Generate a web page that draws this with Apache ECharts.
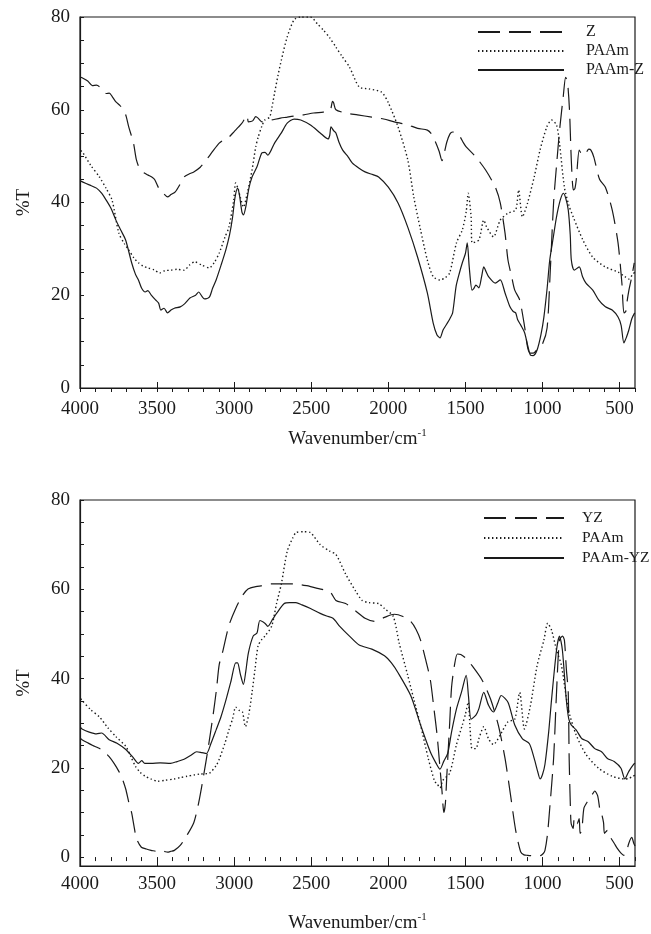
<!DOCTYPE html>
<html>
<head>
<meta charset="utf-8">
<script src="https://cdn.jsdelivr.net/npm/echarts@6/dist/echarts.min.js"></script>
<style>
html,body{margin:0;padding:0;background:#fff;}
#chart{width:651px;height:934px;}
</style>
</head>
<body>
<div id="chart"></div>
<script>
// ---------- Tick labels ----------
const xTickLabels = [500, 1000, 1500, 2000, 2500, 3000, 3500, 4000];
const yTickLabels = [0, 20, 40, 60, 80];

// ---------- Top chart: Z, PAAm, PAAm-Z ----------
const topZ_w = [3995,3981,3950,3920,3893,3860,3830,3810,3790,3767,3740,3716,3700,3684,3653,3634,3609,3580,3558,3530,3515,3483,3460,3432,3410,3382,3350,3325,3290,3262,3220,3180,3140,3097,3060,3034,3000,2971,2945,2927,2915,2908,2880,2860,2845,2820,2790,2757,2700,2656,2600,2549,2485,2422,2378,2362,2355,2340,2277,2200,2107,2030,1962,1880,1810,1747,1720,1696,1670,1652,1635,1621,1600,1583,1560,1539,1515,1495,1432,1369,1306,1274,1243,1224,1200,1180,1148,1116,1097,1080,1060,1030,1000,970,950,928,909,888,865,850,838,825,813,800,790,781,762,750,740,718,700,686,667,630,592,548,510,485,472,460,453,440,421,405];
const topZ_v = [67,66.8,66.2,65.2,65.3,64.6,63.5,63.6,62.8,61.7,60.9,60,58.5,56.3,52.8,49.2,47,46.3,45.9,45.4,44.9,42.7,42,41.2,41.7,42.3,44,45.5,46.2,46.6,47.6,49.2,51,52.8,53.7,54.1,55.3,56.3,57.3,58.4,58.8,57.4,57.6,58.5,58.2,57.4,57.6,57.8,58.2,58.4,58.7,58.9,59.3,59.5,59.8,61.8,61.5,60,59.3,58.9,58.4,58,57.4,56.8,56,55.6,54.8,53.2,51,49,51,53,54.8,55.2,55,54.4,53,52,49.8,47,43.3,39.9,33.4,27.6,24,21.1,19,13.2,8.8,7.5,7.5,8.5,9.5,13,25,40,48,56,63,67,66,60,49,42.7,43,44.9,51.3,50.6,50.2,50.7,51.5,51.3,49.8,45,43.3,38.4,31.3,22.6,16.2,16.5,18.3,21,24,27];

const topPAAm_w = [3995,3981,3930,3874,3830,3792,3748,3710,3684,3650,3621,3590,3558,3520,3483,3450,3413,3370,3325,3290,3255,3210,3161,3130,3097,3060,3034,3003,2990,2975,2959,2940,2915,2884,2860,2845,2820,2801,2770,2755,2738,2715,2694,2656,2611,2570,2505,2460,2422,2380,2340,2300,2252,2189,2126,2044,2000,1937,1874,1835,1791,1747,1709,1665,1630,1602,1558,1520,1495,1482,1463,1457,1413,1381,1362,1318,1274,1224,1174,1155,1130,1097,1054,1016,972,941,909,890,858,830,801,738,674,592,510,465,440,415,400];
const topPAAm_v = [51.2,50.7,48,45.5,43,40.5,33.4,31,29.8,28,27,26.3,25.9,25.5,24.8,25.3,25.4,25.6,25.4,26.5,27.2,26.5,25.9,27,29.1,32.5,34.7,40.5,44.2,43,41,39,42,47,52,54,56.5,57.8,58.4,60.5,63.6,67.5,70.7,75.7,79.4,80,80,78.5,77.2,75.5,73.5,71.5,69.2,64.9,64.5,63.8,61.5,56.3,49.2,41.2,34.1,27.6,24,23.3,23.8,24.8,31.3,34.1,38,42,36.9,31.3,31.9,36.2,34.7,32.6,36.2,37.7,38.4,42.7,36.9,39.9,45.5,51.3,56.3,57.8,56.7,52.8,43.3,39.5,36.9,31.9,28.2,26.1,25,24,23.5,24.5,25];

const topPAAmZ_w = [3995,3981,3940,3893,3860,3830,3800,3767,3735,3704,3665,3640,3621,3600,3577,3560,3539,3510,3490,3476,3455,3432,3410,3388,3350,3320,3287,3250,3230,3210,3192,3161,3140,3117,3085,3054,3030,3010,2995,2978,2965,2950,2940,2925,2905,2884,2852,2820,2800,2782,2760,2738,2694,2656,2611,2568,2505,2442,2391,2380,2372,2355,2340,2320,2296,2260,2233,2190,2151,2100,2063,2000,1937,1874,1810,1747,1709,1685,1665,1645,1621,1600,1583,1560,1539,1520,1500,1488,1475,1457,1445,1432,1413,1395,1381,1365,1350,1306,1274,1243,1211,1190,1174,1161,1140,1116,1095,1078,1060,1035,1010,991,970,953,930,909,885,865,850,833,820,813,794,762,740,718,674,636,592,548,510,490,472,455,440,420,402];
const topPAAmZ_v = [44.6,44.4,43.8,43.1,42,40.5,38.8,36.2,34,31.9,27,24.5,23.3,21.5,20.7,21,20.1,19,18.3,16.8,17.2,16.2,16.8,17.2,17.5,18.2,19.4,20,20.7,19.8,19.2,19.6,21.5,23.3,26.5,29.8,33,36.9,41,43.1,41.5,38,37.3,39,43,45.5,47.7,50.7,50.8,50.2,51.3,52.8,55,57.1,58,57.8,56.7,55,53.7,54.5,56.3,55.5,55,53,51.3,49.8,48.5,47.4,46.6,46,45.5,43.3,39.9,34.7,28.2,20.5,14,11.5,10.8,12.5,13.8,15,16.2,22,24.8,27,29,31.3,26,21.1,21.5,22.2,21.6,24,26.1,25,24,22.6,23.3,20.5,17.5,16.5,16.2,14.7,13.5,11.9,9,7.1,7,8.2,11.5,15.3,21.5,27.6,32.5,36.9,40.5,42,41,38.4,33,27.6,25.4,26.1,24,22.6,21.1,19,17.5,16.8,15.3,13.5,9.7,11,12.5,15,16.2];

// ---------- Bottom chart: YZ, PAAm, PAAm-YZ ----------
const botYZ_w = [3995,3987,3950,3917,3890,3861,3840,3811,3779,3748,3725,3703,3685,3665,3650,3634,3602,3570,3539,3510,3495,3460,3432,3410,3388,3350,3306,3262,3230,3199,3167,3136,3115,3097,3073,3034,2990,2946,2908,2860,2820,2760,2694,2611,2530,2460,2378,2340,2277,2214,2151,2088,2025,1962,1905,1855,1820,1791,1760,1728,1705,1684,1665,1652,1640,1630,1621,1602,1590,1571,1552,1530,1495,1457,1394,1337,1287,1243,1205,1174,1142,1120,1097,1050,1016,995,984,968,953,928,909,890,870,858,845,833,827,818,814,801,794,785,775,762,756,745,731,705,674,661,642,625,617,604,598,579,560,535,516,491,472,460,440,421,408,400];
const botYZ_v = [26.5,26.3,25.6,25,24.6,24.1,23.5,22.5,21,19.2,17.5,15.2,12.5,9.9,7,4.2,2.2,1.8,1.5,1.3,1.1,1.3,1.1,1.3,1.5,2.6,4.9,7.7,12.2,18.1,24.8,32,37.5,43.1,46.2,51.9,55.7,58.6,60.1,60.6,60.8,61.2,61.2,61.2,60.8,60.2,59.4,57.5,56.8,55.2,53.5,52.8,53.7,54.4,53.9,52.8,51,48.6,44.5,39.8,33.5,27.4,20,14.8,10,12,18,30,38,43,45.5,45.4,44.5,42.9,39.8,35.4,29.6,22.1,13.3,6,1.2,0.5,0.4,0.3,0.3,0.8,1.5,5,11,22.1,36.9,48.6,49.5,48.6,42,36.9,22,10,7.5,6.4,8.8,8.2,7.5,8.6,5.3,6,11,12.6,14.2,14.8,13.7,10,9.7,7.7,5.3,6,4.5,3.1,2,0.9,0.4,0.6,3.1,4.4,3.1,2.5];

const botPAAm_w = [3995,3987,3930,3874,3820,3767,3703,3670,3640,3610,3577,3540,3495,3450,3388,3350,3306,3260,3224,3161,3117,3097,3060,3034,3010,2990,2965,2946,2927,2905,2884,2865,2845,2820,2801,2757,2725,2694,2656,2620,2599,2549,2505,2442,2378,2340,2277,2214,2170,2126,2063,2025,1968,1930,1874,1835,1791,1741,1700,1684,1665,1646,1602,1558,1520,1500,1482,1470,1457,1432,1413,1381,1350,1318,1274,1224,1180,1148,1117,1078,1035,991,966,941,909,877,833,782,718,636,548,465,440,415,400];
const botPAAm_v = [35.5,35.1,33,31.4,29,27,24.8,22.5,20.3,19,18.1,17.5,17,17.2,17.5,17.8,18.1,18.4,18.6,18.8,20.5,21.9,25.5,28.5,31,33.6,32.8,32.5,29.2,32,36.9,42,47.3,48.8,49.5,51.7,56.8,61.2,68.5,71.5,72.7,72.9,72.7,70,68.5,67.8,63.4,59.7,57.5,57,56.8,55.7,53.9,48,40.7,35.4,29.6,22.1,17,16.4,15.5,17.2,18.8,25.2,29.6,32,34.7,29,24.3,24.3,26.5,29.2,26.5,25.2,27.4,30.3,30.9,36.9,28.7,34,42.9,48.6,52.4,50.8,46.4,42.9,33.2,27.4,23,19.9,18.1,17.5,17.6,18.1,18.3];

const botPAAmYZ_w = [3995,3987,3940,3893,3860,3811,3760,3703,3660,3621,3600,3580,3539,3480,3413,3370,3325,3280,3243,3210,3180,3150,3117,3085,3054,3020,2990,2978,2960,2940,2925,2908,2877,2852,2833,2801,2782,2750,2725,2675,2640,2599,2560,2505,2442,2400,2359,2315,2252,2189,2107,2025,1980,1937,1855,1791,1728,1690,1665,1640,1615,1590,1558,1526,1495,1480,1463,1432,1413,1381,1350,1318,1290,1268,1224,1180,1130,1085,1054,1030,1016,1000,984,960,941,909,890,871,846,830,814,782,744,705,661,617,579,535,491,466,440,408,400];
const botPAAmYZ_v = [29,28.7,28,27.6,27.8,26.3,25.5,24.1,22.5,21,21.6,21,21,21.1,21,21.4,21.9,22.8,23.6,23.4,23.2,25.5,28.5,31.5,35.1,39.5,43.5,43.5,41,38.7,41.5,45.7,49.5,50.2,53,52.4,51.7,53.3,54.6,56.8,57,57,56.5,55.7,54.6,54,53.5,51.7,49.5,47.5,46.6,45.1,43.5,41.3,36.2,29.6,23.6,21,19.7,21.5,23.2,28,33.2,36.9,40.7,36,30.9,31.8,33.2,36.9,34,32.5,34.5,36.2,34.7,29.6,26.5,25.4,22.1,19,17.5,18.5,20.8,28,35.4,46.4,49.5,46.4,35.4,31,29.6,28.5,26.5,25.9,24.3,23.6,22.1,21.4,19.9,17.5,19.2,20.8,21];

// ---------- build ----------
const pair = (w, v) => w.map((x, i) => [x, v[i]]);
const FONT = '"Liberation Serif", "Times New Roman", serif';
const INK = '#1a1a1a';
const solid = {color: INK, width: 1.2, type: 'solid'};
const dashed = {color: INK, width: 1.2, type: [22, 9]};
const dotted = {color: INK, width: 1.4, type: [1.4, 2.6]};

const minorX = []; for (let v = 400; v <= 4000; v += 100) minorX.push(v);
const minorY = []; for (let v = 0; v <= 80; v += 5) minorY.push(v);
const plain = v => String(v);

function xAxes(gi, labelMargin, nameGap) {
  return [{
    type: 'value', gridIndex: gi, min: 400, max: 4000, inverse: true,
    axisLine: {show: true, onZero: false, lineStyle: {color: INK, width: 1.2}},
    axisTick: {show: true, inside: true, length: 6, customValues: xTickLabels, lineStyle: {color: INK}},
    axisLabel: {show: true, customValues: xTickLabels, formatter: plain, margin: labelMargin, color: INK, fontFamily: FONT, fontSize: 19},
    splitLine: {show: false},
    name: '{a|Wavenumber/cm}{b|-1}', nameLocation: 'middle', nameGap: nameGap,
    nameTextStyle: {color: INK, fontFamily: FONT, rich: {
      a: {fontFamily: FONT, fontSize: 19, color: INK},
      b: {fontFamily: FONT, fontSize: 11, color: INK, padding: [0, 0, 12, 0]}
    }}
  }, {
    type: 'value', gridIndex: gi, min: 400, max: 4000, inverse: true,
    axisLine: {show: false},
    axisTick: {show: true, inside: true, length: 4, customValues: minorX, lineStyle: {color: INK}},
    axisLabel: {show: false}, splitLine: {show: false}
  }];
}
function yAxis(gi, min) {
  return {
    type: 'value', gridIndex: gi, min: min, max: 80,
    axisLine: {show: true, onZero: false, lineStyle: {color: INK, width: 1.2}},
    axisTick: {show: true, inside: true, length: 4, customValues: minorY, lineStyle: {color: INK}},
    axisLabel: {show: true, customValues: yTickLabels, formatter: plain, margin: 10, color: INK, fontFamily: FONT, fontSize: 19},
    splitLine: {show: false},
    name: '%T', nameLocation: 'middle', nameGap: 46, nameRotate: 90,
    nameTextStyle: {color: INK, fontFamily: FONT, fontSize: 19}
  };
}
function line(name, data, style, xi, yi, z) {
  return {type: 'line', name: name, data: data, xAxisIndex: xi, yAxisIndex: yi,
    showSymbol: false, symbol: 'none', smooth: 0.25, lineStyle: style,
    itemStyle: {color: INK}, z: z, animation: false};
}
function legend(names, left, top, w, pad, gap, fs) {
  return {orient: 'vertical', left: left, top: top, padding: 0, data: names,
    itemWidth: w, itemHeight: 10, itemGap: gap, selectedMode: false,
    itemStyle: {opacity: 0},
    textStyle: {color: INK, fontFamily: FONT, fontSize: fs, lineHeight: 18, padding: [0, 0, 0, pad]}};
}

const option = {
  animation: false,
  backgroundColor: '#fff',
  color: [INK],
  grid: [
    {left: 80, top: 17, width: 570, height: 371, show: true, borderColor: INK, borderWidth: 1.2, backgroundColor: 'transparent'},
    {left: 80, top: 500, width: 570, height: 371, show: true, borderColor: INK, borderWidth: 1.2, backgroundColor: 'transparent'}
  ],
  xAxis: [].concat(xAxes(0, 12, 40), xAxes(1, 9, 46)),
  yAxis: [yAxis(0, 0), yAxis(1, -2)],
  legend: [
    legend(['Z', 'PAAm', 'PAAm-Z'], 477, 23, 86, 17, 1, 16),
    legend(['YZ', 'PAAm ', 'PAAm-YZ'], 483, 509, 80, 13, 2, 15.5)
  ],
  series: [
    line('Z', pair(topZ_w, topZ_v), dashed, 0, 0, 3),
    line('PAAm', pair(topPAAm_w, topPAAm_v), dotted, 0, 0, 2),
    line('PAAm-Z', pair(topPAAmZ_w, topPAAmZ_v), solid, 0, 0, 4),
    line('YZ', pair(botYZ_w, botYZ_v), dashed, 2, 1, 3),
    line('PAAm ', pair(botPAAm_w, botPAAm_v), dotted, 2, 1, 2),
    line('PAAm-YZ', pair(botPAAmYZ_w, botPAAmYZ_v), solid, 2, 1, 4)
  ]
};
const chart = echarts.init(document.getElementById('chart'), null, {renderer: 'canvas'});
chart.setOption(option);
</script>
</body>
</html>
